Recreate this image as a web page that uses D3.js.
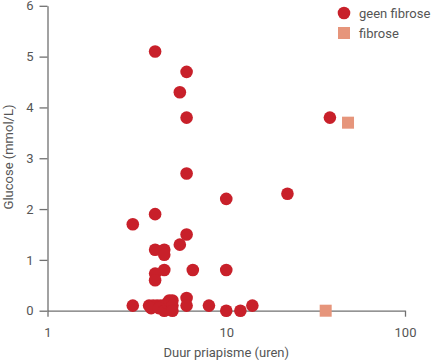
<!DOCTYPE html>
<html><head>
<meta charset="utf-8">
<script src="https://d3js.org/d3.v7.min.js"></script>
<style>
  body { margin: 0; background: #fff; }
  svg text { font-family: Roboto, "DejaVu Sans", sans-serif; fill: #555; }
  .axis path, .axis line { stroke: #707070; stroke-width: 1.3px; }
  .axis text { font-size: 13px; fill: #555; }
</style>
</head>
<body>
<svg id="chart" width="439" height="363"></svg>
<script>
  // geen fibrose (circles)
  const geenX = [4.0, 6.0, 5.5, 6.0, 6.0, 4.0, 3.0, 38, 22, 10,
                 6.0, 5.5, 4.0, 4.5, 4.5, 4.5, 4.0, 4.0, 6.5, 10,
                 3.0, 3.7, 3.9, 4.1, 4.3, 4.5, 3.8, 4.2, 4.5, 4.7,
                 4.8, 5.0, 5.0, 5.0, 6.0, 6.0, 8.0, 10, 12, 14];
  const geenY = [5.1, 4.7, 4.3, 3.8, 2.7, 1.9, 1.7, 3.8, 2.3, 2.2,
                 1.5, 1.3, 1.2, 1.2, 1.1, 0.8, 0.73, 0.6, 0.8, 0.8,
                 0.1, 0.1, 0.1, 0.1, 0.1, 0.1, 0.05, 0.05, 0.0, 0.15,
                 0.2, 0.2, 0.1, 0.0, 0.25, 0.1, 0.1, 0.0, 0.0, 0.1];
  // fibrose (squares)
  const fibX = [48, 36];
  const fibY = [3.7, 0.0];

  const xTicks = [1, 10, 100];
  const yTicks = [0, 1, 2, 3, 4, 5, 6];

  const svg = d3.select("svg#chart");
  const plotLeft = 47.5, plotRight = 405, plotTop = 5.8, plotBottom = 310.7;

  const x = d3.scaleLog().domain([1, 100]).range([plotLeft, plotRight]);
  const y = d3.scaleLinear().domain([0, 6]).range([plotBottom, plotTop]);

  // axes
  svg.append("g").attr("class", "axis")
    .attr("transform", "translate(" + plotLeft + ",0)")
    .call(d3.axisLeft(y).tickValues(yTicks).tickFormat(d3.format("d"))
      .tickSize(8).tickSizeOuter(0).tickPadding(6));

  svg.append("g").attr("class", "axis")
    .attr("transform", "translate(0," + plotBottom + ")")
    .call(d3.axisBottom(x).tickValues(xTicks).tickFormat(d3.format("d"))
      .tickSize(6).tickSizeOuter(0).tickPadding(11));

  // axis titles
  svg.append("text")
    .attr("transform", "translate(13,157) rotate(-90)")
    .attr("text-anchor", "middle")
    .style("font-size", "13px")
    .text("Glucose (mmol/L)");

  svg.append("text")
    .attr("x", x(10)).attr("y", 357)
    .attr("text-anchor", "middle")
    .style("font-size", "13px")
    .text("Duur priapisme (uren)");

  // points
  const red = "#c8202a", salmon = "#e6957b";

  svg.append("g").selectAll("rect")
    .data(fibX)
    .join("rect")
    .attr("x", (d) => x(d) - 6)
    .attr("y", (d, i) => y(fibY[i]) - 6)
    .attr("width", 12).attr("height", 12)
    .attr("fill", salmon);

  svg.append("g").selectAll("circle")
    .data(geenX)
    .join("circle")
    .attr("cx", (d) => x(d))
    .attr("cy", (d, i) => y(geenY[i]))
    .attr("r", 6.3)
    .attr("fill", red);

  // legend
  const legend = svg.append("g");
  legend.append("circle").attr("cx", 344).attr("cy", 13).attr("r", 6.3).attr("fill", red);
  legend.append("rect").attr("x", 338).attr("y", 27).attr("width", 12).attr("height", 12).attr("fill", salmon);
  legend.append("text").attr("x", 359).attr("y", 17.5).style("font-size", "13px").text("geen fibrose");
  legend.append("text").attr("x", 359).attr("y", 37.5).style("font-size", "13px").text("fibrose");
</script>
</body></html>
